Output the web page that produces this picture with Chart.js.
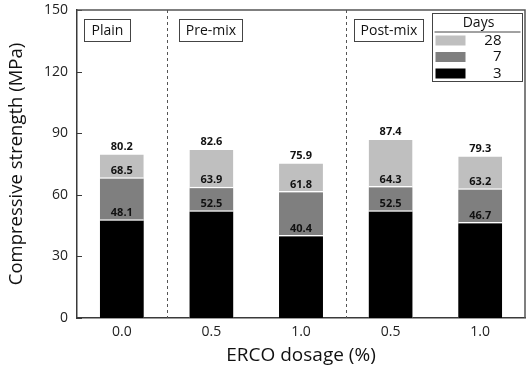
<!DOCTYPE html>
<html>
<head>
<meta charset="utf-8">
<script src="https://cdn.jsdelivr.net/npm/chart.js@4.4.0/dist/chart.umd.min.js"></script>
<style>
  html, body { margin: 0; padding: 0; background: #fff; }
  #wrap { width: 526px; height: 371px; }
</style>
</head>
<body>
<div id="wrap"><canvas id="strengthChart" width="526" height="371"></canvas></div>
<script>
// ERCO dosage vs compressive strength

const dosages = ['0.0', '0.5', '1.0', '0.5', '1.0'];
const day3 = [48.1, 52.5, 40.4, 52.5, 46.7];
const day7 = [68.5, 63.9, 61.8, 64.3, 63.2];
const day28 = [80.2, 82.6, 75.9, 87.4, 79.3];
const yTicks = [0, 30, 60, 90, 120, 150];
const groups = [
  { name: 'Plain', from: 0, to: 0 },
  { name: 'Pre-mix', from: 1, to: 2 },
  { name: 'Post-mix', from: 3, to: 4 }
];

const colors = {
  d3: '#000000',
  d7: '#7f7f7f',
  d28: '#bfbfbf',
  axis: '#3a3a3a'
};
const fontFamily = '"Open Sans", "Noto Sans", sans-serif';

// label box placement (offset from group start, width)
const boxLayout = [
  { dx: 7, w: 46 },
  { dx: 12, w: 63 },
  { dx: 8, w: 69 }
];

// boxes, dashed separators, inward ticks, frame, value labels, legend
const decorPlugin = {
  id: 'decor',
  afterDatasetsDraw(chart) {
    const ctx = chart.ctx;
    const area = chart.chartArea;
    const x = chart.scales.x;
    const y = chart.scales.y;

    ctx.save();

    // value labels above each segment
    ctx.font = 'bold 11px ' + fontFamily;
    ctx.fillStyle = '#111';
    ctx.textAlign = 'center';
    ctx.textBaseline = 'bottom';
    chart.data.datasets.forEach((ds, di) => {
      const meta = chart.getDatasetMeta(di);
      meta.data.forEach((bar, i) => {
        ctx.fillText(ds.data[i].toFixed(1), bar.x, bar.y - 1);
      });
    });

    // dashed separators between groups
    ctx.strokeStyle = '#555';
    ctx.lineWidth = 1;
    ctx.setLineDash([3, 3]);
    groups.slice(0, -1).forEach(g => {
      const px = Math.round((x.getPixelForValue(g.to) + x.getPixelForValue(g.to + 1)) / 2) + 0.5;
      ctx.beginPath();
      ctx.moveTo(px, area.top);
      ctx.lineTo(px, area.bottom);
      ctx.stroke();
    });
    ctx.setLineDash([]);

    // group name boxes
    ctx.font = '14px ' + fontFamily;
    ctx.textAlign = 'center';
    ctx.textBaseline = 'middle';
    groups.forEach((g, gi) => {
      const left = g.from === 0 ? area.left : (x.getPixelForValue(g.from - 1) + x.getPixelForValue(g.from)) / 2;
      const w = boxLayout[gi].w;
      const bx = Math.round(left + boxLayout[gi].dx) + 0.5;
      ctx.fillStyle = '#fff';
      ctx.fillRect(bx, 19.5, w, 22);
      ctx.strokeStyle = '#444';
      ctx.strokeRect(bx, 19.5, w, 22);
      ctx.fillStyle = '#111';
      ctx.fillText(g.name, bx + w / 2, 31);
    });

    // inward y ticks
    ctx.strokeStyle = colors.axis;
    yTicks.forEach(v => {
      const py = Math.round(y.getPixelForValue(v)) + 0.5;
      ctx.beginPath();
      ctx.moveTo(area.left, py);
      ctx.lineTo(area.left + 5, py);
      ctx.stroke();
    });

    // frame
    ctx.lineWidth = 1.5;
    ctx.strokeStyle = '#555';
    ctx.beginPath();
    ctx.moveTo(area.left, area.top);
    ctx.lineTo(area.right, area.top);
    ctx.lineTo(area.right, area.bottom);
    ctx.stroke();

    // legend box
    const lx = 432.5, ly = 13.5, lw = 90, lh = 68;
    ctx.lineWidth = 1;
    ctx.fillStyle = '#fff';
    ctx.fillRect(lx, ly, lw, lh);
    ctx.strokeStyle = '#444';
    ctx.strokeRect(lx, ly, lw, lh);
    ctx.fillStyle = '#111';
    ctx.font = '14px ' + fontFamily;
    ctx.textAlign = 'center';
    ctx.fillText('Days', lx + 46, ly + 10);
    ctx.beginPath();
    ctx.moveTo(lx + 2, ly + 18.5);
    ctx.lineTo(lx + lw - 2, ly + 18.5);
    ctx.stroke();
    const rows = [
      { label: '28', color: colors.d28 },
      { label: '7', color: colors.d7 },
      { label: '3', color: colors.d3 }
    ];
    ctx.font = '15px ' + fontFamily;
    ctx.textAlign = 'right';
    rows.forEach((r, i) => {
      const ry = ly + 27 + i * 16.5;
      ctx.fillStyle = r.color;
      ctx.fillRect(lx + 3, ry - 5, 30, 10);
      ctx.fillStyle = '#111';
      ctx.fillText(r.label, lx + 69, ry);
    });

    ctx.restore();
  }
};

const barStyle = {
  borderColor: '#ffffff',
  borderWidth: { top: 1.5, left: 0, right: 0, bottom: 0 },
  borderSkipped: 'bottom',
  barPercentage: 0.7,
  categoryPercentage: 0.7
};

new Chart(document.getElementById('strengthChart'), {
  type: 'bar',
  data: {
    labels: dosages,
    datasets: [
      Object.assign({ label: '3', data: day3, backgroundColor: colors.d3 }, barStyle),
      Object.assign({ label: '7', data: day7, backgroundColor: colors.d7 }, barStyle),
      Object.assign({ label: '28', data: day28, backgroundColor: colors.d28 }, barStyle)
    ]
  },
  options: {
    responsive: false,
    animation: false,
    devicePixelRatio: 1,
    layout: { padding: { top: 10, right: 1, left: 0, bottom: 0 } },
    plugins: {
      legend: { display: false },
      tooltip: { enabled: false }
    },
    scales: {
      x: {
        stacked: true,
        grid: { display: false, drawTicks: false },
        border: { display: true, color: colors.axis, width: 1.5 },
        ticks: { color: '#222', font: { size: 14, family: fontFamily }, padding: 6 },
        title: {
          display: true,
          text: 'ERCO dosage (%)',
          color: '#111',
          font: { size: 19, family: fontFamily },
          padding: { top: 2, bottom: 4 }
        },
        afterFit(axis) { axis.height = 53; }
      },
      y: {
        stacked: false,
        min: 0,
        max: 150,
        afterBuildTicks(axis) { axis.ticks = yTicks.map(v => ({ value: v })); },
        grid: { display: false, drawTicks: false },
        border: { display: true, color: colors.axis, width: 1.5 },
        ticks: { color: '#222', font: { size: 14, family: fontFamily }, padding: 9 },
        title: {
          display: true,
          text: 'Compressive strength (MPa)',
          color: '#111',
          font: { size: 18.5, family: fontFamily },
          padding: { top: 6, bottom: 4 }
        },
        afterFit(axis) {
          axis.width = 77;
          axis.paddingTop = 0;
          axis.paddingBottom = 0;
        }
      }
    }
  },
  plugins: [decorPlugin]
});
</script>
</body>
</html>
